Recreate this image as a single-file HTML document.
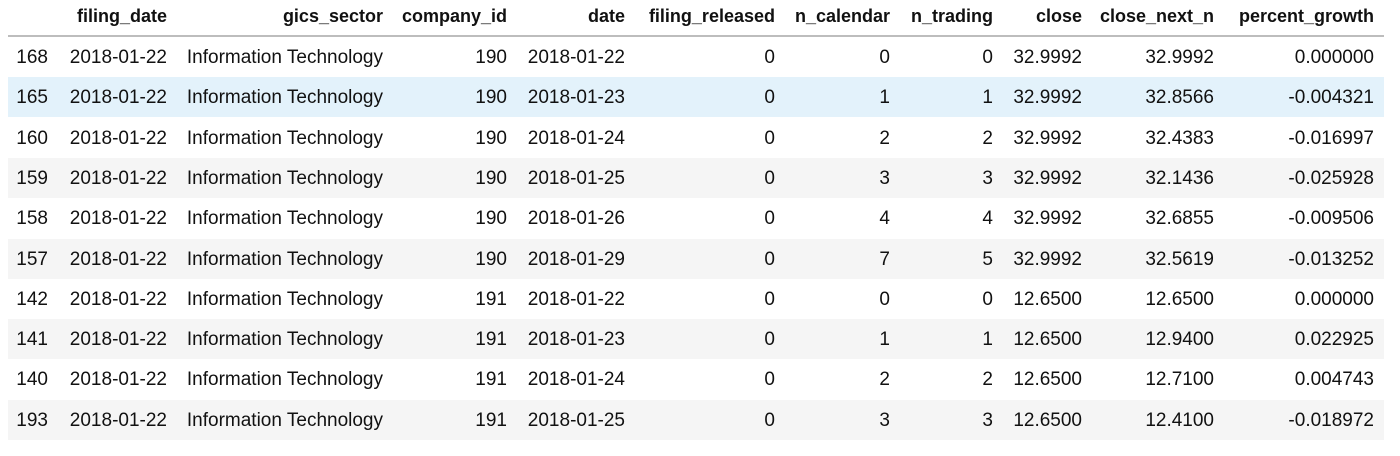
<!DOCTYPE html>
<html><head><meta charset="utf-8">
<style>
html,body{margin:0;padding:0;background:#fff;width:1400px;height:456px;overflow:hidden}
body{font-family:"Liberation Sans",Arial,sans-serif;font-size:19px;color:#111}
#tbl{position:absolute;left:0;top:0;width:1400px;height:456px}
.row{position:absolute;left:8px;width:1376px;height:40px}
.cell{position:absolute;white-space:nowrap;line-height:42px;text-align:right}
.hdr .cell{font-weight:bold;font-size:18px;line-height:33px}
.line{position:absolute;left:8px;width:1376px;top:35px;height:2px;background:#bdbdbd}
</style></head><body>
<div id="tbl"></div>
<script>
const headers=["","filing_date","gics_sector","company_id","date","filing_released","n_calendar","n_trading","close","close_next_n","percent_growth"];
const rights=[48,167,383,507,625,775,890,993,1082,1214,1374];
const rows=[
["168","2018-01-22","Information Technology","190","2018-01-22","0","0","0","32.9992","32.9992","0.000000"],
["165","2018-01-22","Information Technology","190","2018-01-23","0","1","1","32.9992","32.8566","-0.004321"],
["160","2018-01-22","Information Technology","190","2018-01-24","0","2","2","32.9992","32.4383","-0.016997"],
["159","2018-01-22","Information Technology","190","2018-01-25","0","3","3","32.9992","32.1436","-0.025928"],
["158","2018-01-22","Information Technology","190","2018-01-26","0","4","4","32.9992","32.6855","-0.009506"],
["157","2018-01-22","Information Technology","190","2018-01-29","0","7","5","32.9992","32.5619","-0.013252"],
["142","2018-01-22","Information Technology","191","2018-01-22","0","0","0","12.6500","12.6500","0.000000"],
["141","2018-01-22","Information Technology","191","2018-01-23","0","1","1","12.6500","12.9400","0.022925"],
["140","2018-01-22","Information Technology","191","2018-01-24","0","2","2","12.6500","12.7100","0.004743"],
["193","2018-01-22","Information Technology","191","2018-01-25","0","3","3","12.6500","12.4100","-0.018972"]
];
const tbl=document.getElementById('tbl');
function addCells(row,vals){
  vals.forEach((v,i)=>{
    const c=document.createElement('div');
    c.className='cell';
    
    
    c.style.right=(1384-rights[i])+'px';
    c.textContent=v;
    row.appendChild(c);
  });
}
const h=document.createElement('div');
h.className='row hdr';h.style.top='0px';h.style.height='35px';


addCells(h,headers);
tbl.appendChild(h);
const ln=document.createElement('div');ln.className='line';


tbl.appendChild(ln);
rows.forEach((r,k)=>{
  const d=document.createElement('div');
  d.className='row';
  d.style.top=(37+k*40.3)+'px';
  d.style.background = k===1 ? '#e3f2fb' : (k%2===1 ? '#f5f5f5' : '#fff');
  
  
  addCells(d,r);
  tbl.appendChild(d);
});
</script>
</body></html>
